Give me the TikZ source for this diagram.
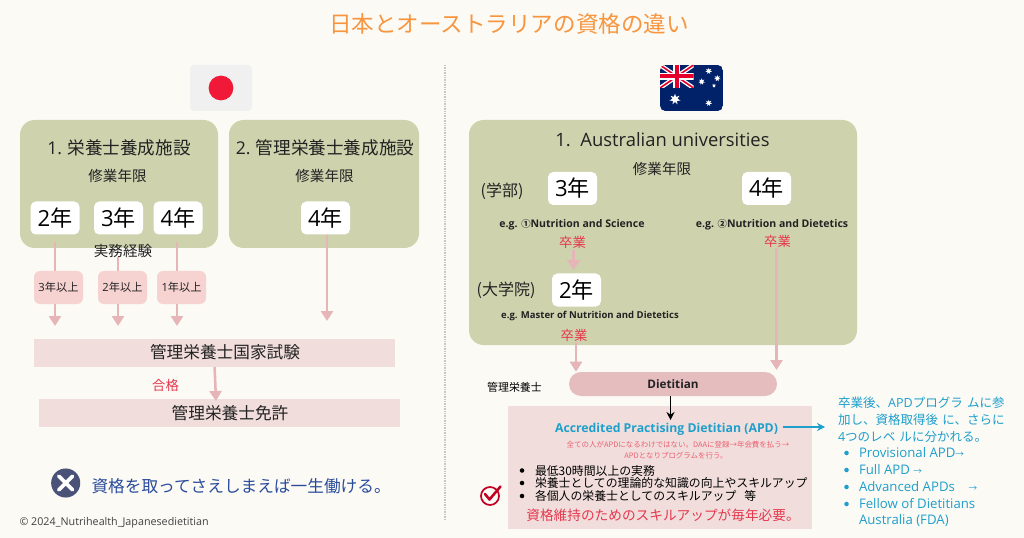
\documentclass[tikz,border=0pt]{standalone}
\usepackage{fontspec}
\setmainfont{Noto Sans CJK JP}
\newfontfamily\lat{Open Sans}
\usetikzlibrary{arrows.meta,shapes.geometric}
\newcommand\fsz[1]{\fontsize{#1}{#1}\selectfont}
\definecolor{bgc}{HTML}{FBFAF5}
\definecolor{olive}{HTML}{CED3AE}
\definecolor{pinkline}{HTML}{E5B5B8}
\definecolor{pinklabel}{HTML}{F6D2D1}
\definecolor{pinkrect}{HTML}{F1DEDC}
\definecolor{pill}{HTML}{E6BDBF}
\definecolor{redt}{HTML}{E5384E}
\definecolor{bluet}{HTML}{1F9FCB}
\definecolor{navy}{HTML}{2A4B9B}
\definecolor{ink}{HTML}{222222}
\definecolor{ausblue}{HTML}{012169}
\definecolor{ausred}{HTML}{E4002B}
\definecolor{orangetitle}{HTML}{F8963F}
\definecolor{jpred}{HTML}{F01A38}
\definecolor{xcol}{HTML}{4A5278}
\tikzset{
  wh/.style 2 args={minimum width=#1*0.75pt,minimum height=#2*0.75pt},
  txt/.style={inner sep=0pt,outer sep=0pt,text=ink},
  card/.style={fill=olive,rounded corners=11pt,inner sep=0pt},
  yearbox/.style={fill=white,rounded corners=4pt,inner sep=0pt,wh={49}{33},text=black,font=\fsz{16.6pt}},
  plabel/.style={fill=pinklabel,rounded corners=4.5pt,inner sep=0pt,wh={49}{33},text=ink,font=\fsz{8.4pt}},
  prect/.style={fill=pinkrect,inner sep=0pt},
  parrow/.style={draw=pinkline,line width=1.9pt,-{Triangle[width=9pt,length=7.5pt]}},
  sub/.style={txt,font=\fsz{10.9pt}},
  grad/.style={txt,text=redt,font=\fsz{10pt}},
  eg/.style={txt,font=\lat\bfseries\fsz{7.9pt}},
  bluel/.style={txt,text=bluet,font=\lat\fsz{9.9pt},anchor=west},
  bul/.style={circle,fill=bluet,inner sep=0pt,minimum size=3.4pt},
  blkb/.style={circle,fill=black,inner sep=0pt,minimum size=3.4pt},
  apdl/.style={txt,text=black,font=\fsz{8.9pt},anchor=west},
  wstar/.style={star,star points=7,star point ratio=2.2,fill=white,inner sep=0pt}
}
\begin{document}
\begin{tikzpicture}[x=0.75pt,y=-0.75pt]
\path[use as bounding box,fill=bgc] (0,0) rectangle (1024,538);
\node[txt,text=orangetitle,font=\fsz{16.9pt}] (title) at (509,24) {日本とオーストラリアの資格の違い};
\draw[black!22,line width=1.2pt,dash pattern=on 1pt off .8pt] (445,65) -- (445,520);
% Japan flag
\node[fill=black!6,rounded corners=3pt,inner sep=0pt,wh={62}{46}] (jpflag) at (221,88) {};
\fill[jpred] (jpflag.center) circle (12.4);
% Left cards
\node[card,wh={198}{128}] (c1) at (119,184) {};
\node[card,wh={190}{128}] (c2) at (324,184) {};
\node[txt,font=\fsz{13.2pt}] (c1t) at (119,148) {{\lat 1.} 栄養士養成施設};
\node[txt,font=\fsz{13.2pt}] (c2t) at (325,148) {{\lat 2.} 管理栄養士養成施設};
\node[sub] (c1s) at (117.5,176) {修業年限};
\node[sub] (c2s) at (324.5,176) {修業年限};
% Arrows behind labels
\coordinate (a1s) at (55,242); \coordinate (a1e) at (55,326);
\coordinate (a2s) at (118,257); \coordinate (a2e) at (118,326);
\coordinate (a3s) at (177,242); \coordinate (a3e) at (177,326);
\coordinate (a4e) at (327,321);
\node[yearbox] (y2) at (55,218) {{\lat 2}年};
\node[yearbox] (y3) at (118.5,218) {{\lat 3}年};
\node[yearbox] (y4) at (178,218) {{\lat 4}年};
\node[yearbox] (y4b) at (325.5,218) {{\lat 4}年};
\draw[parrow] (a1s) -- (a1e);
\draw[parrow] (a2s) -- (a2e);
\draw[parrow] (a3s) -- (a3e);
\draw[parrow] (y4b.south -| a4e) -- (a4e);
\node[txt,font=\fsz{10.9pt}] (jm) at (123,251) {実務経験};
\node[plabel] (l1) at (58.5,287.5) {{\lat 3}年以上};
\node[plabel] (l2) at (122.5,287.5) {{\lat 2}年以上};
\node[plabel] (l3) at (181.5,287.5) {{\lat 1}年以上};
% Exam
\node[prect,wh={361}{28}] (exam) at (214.5,353) {};
\node[txt,font=\fsz{12.5pt}] (examt) at (225,352.5) {管理栄養士国家試験};
\node[prect,wh={361}{28}] (lic) at (219.5,413) {};
\node[txt,font=\fsz{12.5pt}] (lict) at (230,413) {管理栄養士免許};
\node[txt,text=redt,font=\fsz{10pt}] (pass) at (165.5,385) {合格};
\coordinate (ex1) at (214.6,367); \coordinate (ex2) at (216,401);
\draw[parrow] (ex1) -- (ex2);
% X note
\node[circle,fill=xcol,inner sep=0pt,minimum size=21.8pt] (xc) at (65.7,483) {};
\draw[white,line width=2.8pt,line cap=round] (58.8,476.1) -- (72.6,489.9) (72.6,476.1) -- (58.8,489.9);
\node[txt,text=navy,font=\fsz{12.5pt},anchor=west] (xt) at (91.5,486) {資格を取ってさえしまえば一生働ける。};
\node[txt,text=black!75,font=\lat\fsz{8.05pt},anchor=west] (copy) at (19.5,523) {© 2024\_Nutrihealth\_Japanesedietitian};
% Australian flag
\begin{scope}
\path[clip,rounded corners=4pt] (660,65) rectangle (723,111);
\fill[ausblue] (660,65) rectangle (723,111);
\begin{scope}
\clip (660,65) rectangle (693.5,88);
\draw[white,line width=3.2pt] (660,65) -- (693.5,88) (693.5,65) -- (660,88);
\draw[ausred,line width=1.2pt] (660,65) -- (693.5,88) (693.5,65) -- (660,88);
\draw[white,line width=5pt] (676.7,65) -- (676.7,88) (660,76.5) -- (693.5,76.5);
\draw[ausred,line width=3pt] (676.7,65) -- (676.7,88) (660,76.5) -- (693.5,76.5);
\end{scope}
\end{scope}
\node[wstar,minimum size=8.5pt] (s1) at (675,99.3) {};
\node[wstar,minimum size=5pt] (s2) at (708.7,71) {};
\node[wstar,minimum size=5pt] (s3) at (701.7,81.7) {};
\node[wstar,minimum size=5pt] (s4) at (717.3,78.3) {};
\node[wstar,minimum size=3pt] (s5) at (714,85.7) {};
\node[wstar,minimum size=5pt] (s6) at (708.7,103) {};
% Right card
\node[card,wh={388}{225}] (c3) at (663,232.5) {};
\node[txt,font=\lat\fsz{13.8pt}] (c3t) at (662.5,140) {1.\ \ Australian universities};
\node[sub] (c3s) at (662,169) {修業年限};
\node[txt,font=\fsz{12pt}] (gakubu) at (502,191) {(学部)};
\node[yearbox] (r3) at (572.5,188.5) {{\lat 3}年};
\node[yearbox] (r4) at (766.5,188.5) {{\lat 4}年};
\node[eg] (eg1) at (572,224.5) {e.g. {\rmfamily\fsz{7pt}①}Nutrition and Science};
\node[eg] (eg2) at (772,224.5) {e.g. {\rmfamily\fsz{7pt}②}Nutrition and Dietetics};
\node[grad] (g1) at (572.5,242) {卒業};
\node[grad] (g2) at (777.5,241.5) {卒業};
\coordinate (ga1) at (573.5,250); \coordinate (ga2) at (573.5,270);
\draw[draw=pinkline,line width=2.6pt,-{Triangle[width=9.5pt,length=7.5pt]}] (ga1) -- (ga2);
\node[txt,font=\fsz{12pt}] (daigakuin) at (506,290) {(大学院)};
\node[yearbox] (r2) at (576.5,290) {{\lat 2}年};
\node[eg,font=\lat\bfseries\fsz{7.15pt}] (eg3) at (590,316) {e.g. Master of Nutrition and Dietetics};
\node[grad] (g3) at (574,335) {卒業};
% Dietitian
\node[fill=pill,rounded corners=9pt,inner sep=0pt,wh={208}{24},font=\lat\bfseries\fsz{8.8pt},text=ink] (diet) at (673,384) {Dietitian};
\coordinate (da1) at (576,342); \coordinate (da2) at (776.5,248);
\draw[parrow] (da1) -- (da1 |- diet.north);
\draw[parrow] (da2) -- (776.5,370);
\node[txt,text=black,font=\fsz{8.2pt}] (kanri) at (514.5,387) {管理栄養士};
% APD box
\node[prect,wh={304}{123}] (apd) at (660,467.5) {};
\coordinate (ba) at (670.5,420);
\draw[black,line width=1.2pt,-{Stealth[length=6pt,width=6pt]}] (diet.south -| ba) -- (ba);
\node[txt,text=bluet,font=\lat\bfseries\fsz{9.2pt}] (apdt) at (666.5,429.5) {Accredited Practising Dietitian (APD)};
\coordinate (bl1) at (783,427); \coordinate (bl2) at (825,427);
\draw[bluet,line width=1.2pt,-{Stealth[length=6pt,width=6pt]}] (bl1) -- (bl2);
\node[txt,text=redt!80!white,font=\fsz{5.6pt}] (n1) at (678,445) {全ての人がAPDになるわけではない。DAAに登録→年会費を払う→};
\node[txt,text=redt!80!white,font=\fsz{5.6pt}] (n2) at (676,456) {APDとなりプログラムを行う。};
\node[blkb] (b1) at (522,470.5) {};
\node[blkb] (b2) at (522,483) {};
\node[blkb] (b3) at (522,496) {};
\node[apdl] (t1) at (535,470.5) {最低30時間以上の実務};
\node[apdl] (t2) at (535,483) {栄養士としての理論的な知識の向上やスキルアップ};
\node[apdl] (t3) at (535,496) {各個人の栄養士としてのスキルアップ\ \ \ 等};
\node[txt,text=redt,font=\fsz{10.25pt}] (keep) at (663,515) {資格維持のためのスキルアップが毎年必要。};
% Check icon
\draw[ausred!85!black,line width=1.3pt] (490,496) circle (9);
\draw[ausred!85!black,line width=1.9pt,line cap=round,line join=round] (485,494) -- (489.5,499.5) -- (500.5,486.5);
% Blue right text
\node[bluel,align=left,font=\fsz{9.4pt},text width=135pt] (bt) at (838,420) {\baselineskip=12.75pt 卒業後、{\lat APD}プログラ ムに参\par 加し、資格取得後 に、さらに\par {\lat 4}つのレベ ルに分かれる。\par};
\node[bul] (p1) at (846.5,453) {};
\node[bul] (p2) at (846.5,470) {};
\node[bul] (p3) at (846.5,487) {};
\node[bul] (p4) at (846.5,504) {};
\node[bluel] (q1) at (859,453) {Provisional APD{\rmfamily\fsz{6.5pt}→}};
\node[bluel] (q2) at (859,470) {Full APD {\rmfamily\fsz{6.5pt}→}};
\node[bluel] (q3) at (859,487) {Advanced APDs\ \ \ \ {\rmfamily\fsz{6.5pt}→}};
\node[bluel] (q4) at (859,504) {Fellow of Dietitians};
\node[bluel] (q5) at (859,521) {Australia (FDA)};
\end{tikzpicture}
\end{document}
